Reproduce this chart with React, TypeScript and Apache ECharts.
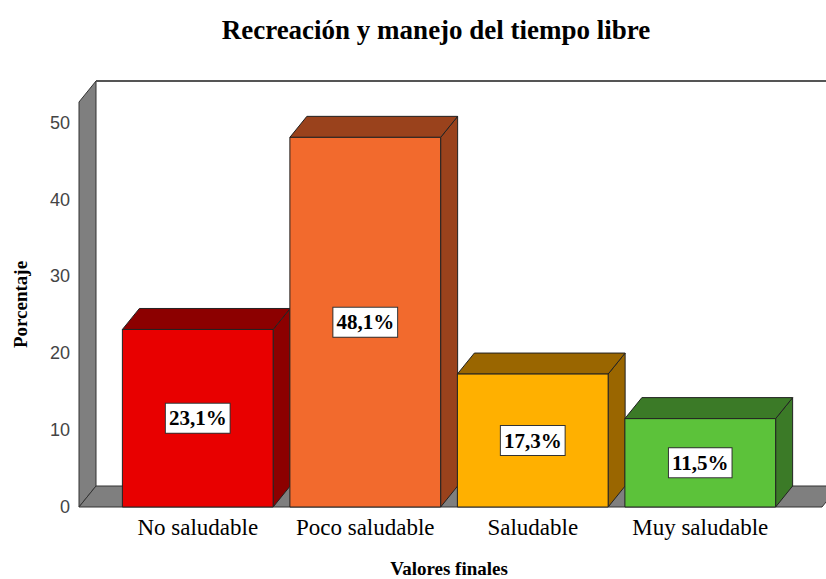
import React, { useEffect, useRef } from "react";
import * as echarts from "echarts";

const categories = ["No saludable", "Poco saludable", "Saludable", "Muy saludable"];
const percentages = [23.1, 48.1, 17.3, 11.5];
const frontColors = ["#e80000", "#f26a2d", "#ffb000", "#5cc23a"];
const shadeColors = ["#8c0000", "#9a421c", "#9a6600", "#3b7a27"];
const yMax = 52.7;
const yInterval = 10;

const DX = 17;
const DY = 21;

export default function App() {
  const ref = useRef<HTMLDivElement>(null);
  useEffect(() => {
    if (!ref.current) return;
    const chart = echarts.init(ref.current, null, { renderer: "svg" });
    const serif = "'Liberation Serif', 'Times New Roman', serif";
    const option: any = {
      animation: false,
      backgroundColor: "#ffffff",
      title: {
        text: "Recreación y manejo del tiempo libre",
        left: 431,
        textAlign: "center",
        top: 11,
        textStyle: { fontFamily: serif, fontWeight: "bold", fontSize: 27, color: "#000" },
      },
      grid: { left: 114, top: 102, width: 670, height: 405, outerBoundsMode: "none", containLabel: false },
      xAxis: {
        type: "category",
        data: categories,
        axisLine: { show: false },
        axisTick: { show: false },
        axisLabel: { interval: 0, margin: 9, fontFamily: serif, fontSize: 23, color: "#000" },
        name: "Valores finales",
        nameLocation: "middle",
        nameGap: 52,
        nameTextStyle: { fontFamily: serif, fontWeight: "bold", fontSize: 19, color: "#000" },
      },
      yAxis: {
        type: "value",
        min: 0,
        max: yMax,
        interval: yInterval,
        axisLine: { show: false },
        axisTick: { show: false },
        splitLine: { show: false },
        axisLabel: {
          margin: 44,
          fontFamily: "'Liberation Sans', Arial, sans-serif",
          fontSize: 18,
          color: "#444",
          showMaxLabel: false,
        },
        name: "Porcentaje",
        nameLocation: "middle",
        nameGap: 84,
        nameRotate: 90,
        nameTextStyle: { fontFamily: serif, fontWeight: "bold", fontSize: 19, color: "#000" },
      },
      series: [
        {
          type: "custom",
          silent: true,
          data: [[0, 0]],
          z: 1,
          renderItem: (params: any, api: any) => {
            const cs = params.coordSys;
            const top = cs.y;
            const bottom = cs.y + cs.height;
            const lx = cs.x - 35;
            const rx = cs.x + cs.width + 38;
            const W = api.getWidth();
            const stroke = "#333";
            return {
              type: "group",
              children: [
                {
                  type: "rect",
                  shape: { x: lx + DX, y: top - DY, width: W, height: cs.height },
                  style: { fill: "#ffffff", stroke: "none" },
                },
                {
                  type: "polygon",
                  shape: {
                    points: [
                      [lx, top],
                      [lx + DX, top - DY],
                      [lx + DX, bottom - DY],
                      [lx, bottom],
                    ],
                  },
                  style: { fill: "#7f7f7f", stroke, lineWidth: 1 },
                },
                {
                  type: "polygon",
                  shape: {
                    points: [
                      [lx, bottom],
                      [rx, bottom],
                      [rx + DX, bottom - DY],
                      [lx + DX, bottom - DY],
                    ],
                  },
                  style: { fill: "#7f7f7f", stroke, lineWidth: 1 },
                },
                {
                  type: "line",
                  shape: { x1: lx + DX, y1: top - DY, x2: W, y2: top - DY },
                  style: { stroke: "#555", lineWidth: 2 },
                },
              ],
            };
          },
        },
        {
          type: "custom",
          z: 2,
          data: percentages.map((v, i) => [i, v]),
          renderItem: (params: any, api: any) => {
            const i = api.value(0);
            const v = api.value(1);
            const topPt = api.coord([i, v]);
            const basePt = api.coord([i, 0]);
            const bw = api.size([1, 0])[0] * 0.9;
            const x0 = topPt[0] - bw / 2;
            const x1 = topPt[0] + bw / 2;
            const yT = topPt[1];
            const yB = basePt[1];
            const idx = params.dataIndex;
            const stroke = "#222";
            return {
              type: "group",
              children: [
                {
                  type: "polygon",
                  shape: {
                    points: [
                      [x1, yT],
                      [x1 + DX, yT - DY],
                      [x1 + DX, yB - DY],
                      [x1, yB],
                    ],
                  },
                  style: { fill: shadeColors[idx], stroke, lineWidth: 1 },
                },
                {
                  type: "polygon",
                  shape: {
                    points: [
                      [x0, yT],
                      [x0 + DX, yT - DY],
                      [x1 + DX, yT - DY],
                      [x1, yT],
                    ],
                  },
                  style: { fill: shadeColors[idx], stroke, lineWidth: 1 },
                },
                {
                  type: "rect",
                  shape: { x: x0, y: yT, width: bw, height: yB - yT },
                  style: { fill: frontColors[idx], stroke, lineWidth: 1 },
                },
                {
                  type: "text",
                  x: topPt[0],
                  y: (yT + yB) / 2,
                  style: {
                    text: String(v).replace(".", ",") + "%",
                    align: "center",
                    verticalAlign: "middle",
                    fontFamily: serif,
                    fontWeight: "bold",
                    fontSize: 21,
                    fill: "#000",
                    backgroundColor: "#ffffff",
                    borderColor: "#333",
                    borderWidth: 1,
                    padding: [5, 3, 3, 3],
                  },
                },
              ],
            };
          },
        },
      ],
    };
    chart.setOption(option);
    return () => chart.dispose();
  }, []);
  return (
    <div
      ref={ref}
      style={{ position: "fixed", left: 0, top: 0, width: 826, height: 579 }}
    />
  );
}
